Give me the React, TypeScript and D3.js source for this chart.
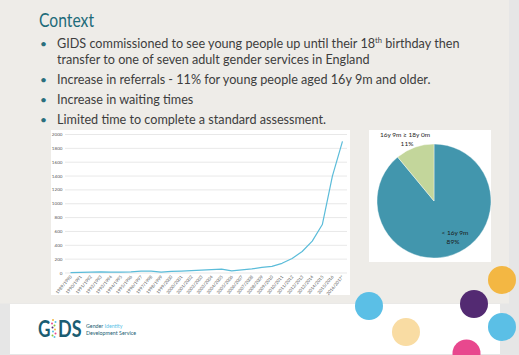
import React, { useLayoutEffect, useRef, useState } from "react";
import * as d3 from "d3";

const years = [
  "1989/1990","1990/1991","1991/1992","1992/1993","1993/1994","1994/1995","1995/1996",
  "1996/1997","1997/1998","1998/1999","1999/2000","2000/2001","2001/2002","2002/2003",
  "2003/2004","2004/2005","2005/2006","2006/2007","2007/2008","2008/2009","2009/2010",
  "2010/2011","2011/2012","2012/2013","2013/2014","2014/2015","2015/2016","2016/2017*",
];
const referrals = [5, 10, 14, 15, 12, 14, 16, 26, 28, 14, 24, 28, 34, 42, 50, 55, 30, 45, 60, 80, 95, 140, 210, 310, 460, 700, 1400, 1900];
const yTicks = [0, 200, 400, 600, 800, 1000, 1200, 1400, 1600, 1800, 2000];

const pieLabels = ["< 16y 9m", "16y 9m \u2265 18y 0m"];
const pieValues = [89, 11];
const pieColors = ["#4296ad", "#c3d69b"];

const title = "Context";
const bulletLines = [
  "GIDS commissioned to see young people up until their 18",
  "transfer to one of seven adult gender services in England",
  "Increase in referrals - 11% for young people aged 16y 9m and older.",
  "Increase in waiting times",
  "Limited time to complete a standard assessment.",
];
const bulletHas = [true, false, true, true, true];
const bulletYs = [48, 64, 84, 104, 124];
const supText = "th";
const afterText = " birthday then";

const circles = [
  { cx: 502, cy: 280, c: "#f3b743" },
  { cx: 474, cy: 304, c: "#532a72" },
  { cx: 502, cy: 327, c: "#5bbfe6" },
  { cx: 466.5, cy: 353.5, c: "#e8488e" },
  { cx: 369, cy: 306, c: "#5bbfe6" },
  { cx: 406, cy: 332, c: "#f9dca3" },
];

const logoDots = [
  { x: 53, y: 320, c: "#f3b743" }, { x: 55.5, y: 322, c: "#5bbfe6" }, { x: 52, y: 323.5, c: "#e8488e" },
  { x: 54.5, y: 325.5, c: "#8cc63f" }, { x: 52.5, y: 327.5, c: "#532a72" }, { x: 55, y: 329.5, c: "#f3b743" },
  { x: 53, y: 331.5, c: "#5bbfe6" }, { x: 55.5, y: 333.5, c: "#e8488e" }, { x: 52.5, y: 335.5, c: "#8cc63f" },
  { x: 54.5, y: 337, c: "#5bbfe6" },
];

export default function App() {
  const measureRef = useRef<SVGTextElement>(null);
  const [fs, setFs] = useState(13);

  useLayoutEffect(() => {
    const el = measureRef.current;
    if (el) {
      const w = el.getComputedTextLength();
      if (w > 0) setFs(13 * (313 / w));
    }
  }, []);

  const x = d3.scaleBand<string>().domain(years).range([65.5, 347.5]).padding(0);
  const y = d3.scaleLinear().domain([0, 2000]).range([273, 134.5]);
  const line = d3
    .line<number>()
    .x((_, i) => (x(years[i]) as number) + x.bandwidth() / 2)
    .y((d) => y(d));

  const pie = d3.pie<number>().sort(null).value((d) => d)(pieValues);
  const arc = d3.arc<d3.PieArcDatum<number>>().innerRadius(0).outerRadius(57);
  const pcx = 434, pcy = 201;

  const font = "Lato, 'Open Sans', sans-serif";

  return (
    <svg width={519} height={355} style={{ position: "absolute", left: 0, top: 0 }} fontFamily={font}>
      <rect x={0} y={0} width={519} height={355} fill="#e6e6e6" />
      <rect x={0} y={0} width={509} height={303.5} fill="#eeece8" />
      <rect x={10} y={304} width={490} height={50} fill="#ffffff" />

      {/* hidden measurer */}
      <text ref={measureRef} x={-1000} y={-1000} fontSize={13} visibility="hidden">{bulletLines[1]}</text>

      <text x={39} y={27} fontSize={18.5} fill="#1d6b7a" textLength={55} lengthAdjust="spacingAndGlyphs">{title}</text>

      {bulletLines.map((t, i) => (
        <g key={i}>
          {bulletHas[i] && (
            <text x={40} y={bulletYs[i]} fontSize={12} fill="#2a6f7d">•</text>
          )}
          <text x={57} y={bulletYs[i]} fontSize={fs} fill="#3d3d3d">
            {t}
            {i === 0 && <tspan fontSize={fs * 0.6} dy={-fs * 0.38}>{supText}</tspan>}
            {i === 0 && <tspan dy={fs * 0.38}>{afterText}</tspan>}
          </text>
        </g>
      ))}

      {/* line chart panel */}
      <rect x={51} y={130} width={299} height={165} fill="#ffffff" />
      {yTicks.map((t) => (
        <g key={t}>
          <line x1={65} x2={347} y1={y(t)} y2={y(t)} stroke="#d9d9d9" strokeWidth={0.6} />
          <text x={62.5} y={y(t) + 1.5} fontSize={4.6} textAnchor="end" fill="#595959">{t}</text>
        </g>
      ))}
      {years.map((yr) => {
        const cx = (x(yr) as number) + x.bandwidth() / 2 + 1.5;
        return (
          <text key={yr} x={cx} y={277} fontSize={4.4} textAnchor="end" fill="#595959" transform={`rotate(-50, ${cx}, 277)`}>
            {yr}
          </text>
        );
      })}
      <path d={line(referrals) || ""} fill="none" stroke="#5bbcd9" strokeWidth={1.2} strokeLinejoin="round" />

      {/* pie panel */}
      <rect x={369} y={130} width={122} height={132} fill="#ffffff" />
      <g transform={`translate(${pcx},${pcy})`}>
        {pie.map((p, i) => (
          <path key={i} d={arc(p) || ""} fill={pieColors[i]} stroke="#ffffff" strokeWidth={0.4} />
        ))}
      </g>
      <text x={405} y={137} fontSize={6.5} textAnchor="middle" fill="#262626">{pieLabels[1]}</text>
      <text x={407} y={145.5} fontSize={6.5} textAnchor="middle" fill="#262626">{pieValues[1]}%</text>
      <text x={455} y={235} fontSize={6.5} textAnchor="middle" fill="#1a1a1a">{pieLabels[0]}</text>
      <text x={453} y={243.5} fontSize={6.5} textAnchor="middle" fill="#1a1a1a">{pieValues[0]}%</text>

      {/* footer logo */}
      <text x={38} y={337} fontSize={22} fontWeight={700} fill="#1b5d72" textLength={12.5} lengthAdjust="spacingAndGlyphs">G</text>
      {logoDots.map((d, i) => (
        <circle key={i} cx={d.x} cy={d.y} r={1} fill={d.c} />
      ))}
      <text x={58} y={337} fontSize={22} fontWeight={700} fill="#1b5d72" textLength={23.5} lengthAdjust="spacingAndGlyphs">DS</text>
      <text x={86} y={328} fontSize={4.8} fill="#1b5d72" textLength={36.5} lengthAdjust="spacingAndGlyphs">
        Gender <tspan fill="#5bbfe6">Identity</tspan>
      </text>
      <text x={86} y={334.5} fontSize={4.8} fill="#1b5d72" textLength={50} lengthAdjust="spacingAndGlyphs">Development Service</text>

      {circles.map((c, i) => (
        <circle key={i} cx={c.cx} cy={c.cy} r={14} fill={c.c} />
      ))}
    </svg>
  );
}
